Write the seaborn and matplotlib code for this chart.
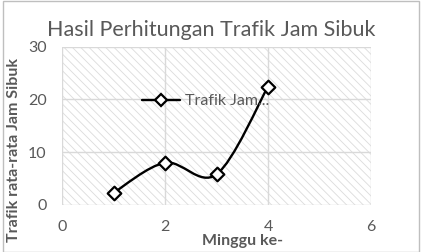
import matplotlib
matplotlib.use("Agg")
import matplotlib.pyplot as plt
import seaborn as sns
import pandas as pd
from matplotlib.path import Path
from matplotlib.patches import PathPatch, Rectangle
from matplotlib.lines import Line2D

# data
minggu = [1, 2, 3, 4]
trafik = [2.3, 8.0, 5.8, 22.4]
series_name = "Trafik Jam..."
title = "Hasil Perhitungan Trafik Jam Sibuk"
xlabel = "Minggu ke-"
ylabel = "Trafik rata-rata Jam Sibuk"
xticks = [0, 2, 4, 6]
yticks = [0, 10, 20, 30]

sns.set_theme(style="white")
plt.rcParams['font.family'] = ['Lato', 'DejaVu Sans']
plt.rcParams['hatch.color'] = '#dcdcdc'
plt.rcParams['hatch.linewidth'] = 0.6

GRAY = '#595959'
GRID = '#d9d9d9'

fig = plt.figure(figsize=(4.26, 2.52), dpi=100)
ax = fig.add_axes([62/426, 1-205/252, (371-62)/426, (205-46.5)/252])

df = pd.DataFrame({"x": minggu, "y": trafik})

# hatched background
ax.add_patch(Rectangle((0, 0), 1, 1, transform=ax.transAxes, facecolor='white',
                       edgecolor='#dcdcdc', lw=0, hatch='\\\\\\\\', zorder=0))

# smoothed line (Excel-style bezier through the data points)
pts = list(zip(minggu, trafik))
verts = [pts[0]]
codes = [Path.MOVETO]
n = len(pts)
for i in range(n - 1):
    p0 = pts[i - 1] if i > 0 else pts[i]
    p1 = pts[i]
    p2 = pts[i + 1]
    p3 = pts[i + 2] if i + 2 < n else pts[i + 1]
    c1 = (p1[0] + (p2[0] - p0[0]) / 6, p1[1] + (p2[1] - p0[1]) / 6)
    c2 = (p2[0] - (p3[0] - p1[0]) / 6, p2[1] - (p3[1] - p1[1]) / 6)
    verts += [c1, c2, p2]
    codes += [Path.CURVE4] * 3
ax.add_patch(PathPatch(Path(verts, codes), facecolor='none', edgecolor='black',
                       lw=1.7, zorder=3, transform=ax.transData))

sns.scatterplot(data=df, x="x", y="y", marker='D', s=48, facecolor='white',
                edgecolor='black', linewidth=1.6, zorder=4, ax=ax, legend=False)

ax.set_xlim(0, 6)
ax.set_ylim(0, 30)
ax.set_xticks(xticks)
ax.set_yticks(yticks)
ax.set_xticklabels([str(t) for t in xticks])
ax.set_yticklabels([str(t) for t in yticks])
ax.tick_params(axis='both', length=0, labelsize=11.5, labelcolor=GRAY)
ax.tick_params(axis='x', pad=11)
ax.tick_params(axis='y', pad=11)
ax.grid(True, color=GRID, lw=1)
for ln in ax.get_xgridlines() + ax.get_ygridlines():
    ln.set_zorder(1)
for s in ax.spines.values():
    s.set_visible(False)
ax.set_xlabel("")
ax.set_ylabel("")

handle = Line2D([], [], color='black', lw=1.7, marker='D', markersize=6.5,
                markerfacecolor='white', markeredgecolor='black', markeredgewidth=1.6)
leg = ax.legend([handle], [series_name], loc='center left',
                bbox_to_anchor=((142 - 62) / 309, 1 - (101 - 46.5) / 158.5),
                frameon=False, fontsize=11.5, handlelength=2.4, handletextpad=0.3,
                borderpad=0, borderaxespad=0)
for t in leg.get_texts():
    t.set_color(GRAY)

fig.text(211/426, 1 - 30/252, title, ha='center', va='center', fontsize=15.5, color=GRAY)
fig.text(243/426, 1 - 241/252, xlabel, ha='center', va='center', fontsize=11.5,
         fontweight='bold', color=GRAY)
fig.text(14/426, 1 - 150/252, ylabel, ha='center', va='center', rotation=90,
         fontsize=11.5, fontweight='bold', color=GRAY)

fig.patches.append(Rectangle((3/426, 0.5/252), 416/426, 250.5/252, transform=fig.transFigure,
                             facecolor='none', edgecolor='#bfbfbf', lw=1))

fig.savefig("out.png", dpi=100)
